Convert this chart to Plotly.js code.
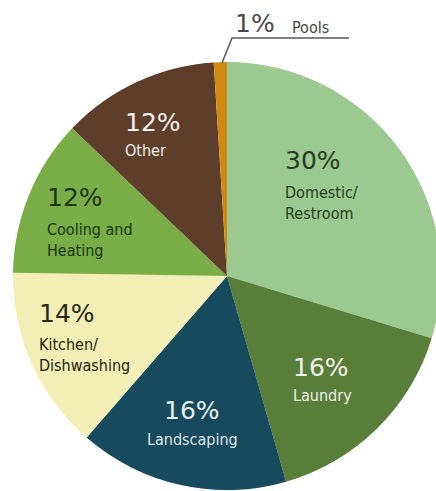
<!DOCTYPE html>
<html>
<head>
<meta charset="utf-8">
<script src="https://cdn.plot.ly/plotly-3.0.1.min.js"></script>
<style>
html,body{margin:0;padding:0;background:#fff;overflow:hidden;width:436px;height:491px;}
#chart{width:450px;height:500px;}
</style>
</head>
<body>
<div id="chart"></div>
<script>
// Data
const categories = ["Domestic/<br>Restroom", "Laundry", "Landscaping", "Kitchen/<br>Dishwashing", "Cooling and<br>Heating", "Other", "Pools"];
const values = [30, 16, 16, 14, 12, 12, 1];
const colors = ["#9cc990", "#587e3a", "#164a5c", "#f3eeb5", "#7aad47", "#5c3e2b", "#d08a14"];
const pctColors = ["#2b3a22", "#f2f2ea", "#e6eeee", "#2a2918", "#1c360f", "#f4f0ea", "#4a4a4a"];
const labColors = ["#263d1b", "#f2f2ea", "#dfe8ea", "#24230f", "#1a350c", "#f4f0ea", "#444444"];

// Label placement (pixel positions in the 450x500 canvas): pct cap-top, label cap-top
const W = 450, H = 500;
const labelPos = [
  {x: 285, pt: 150, lt: 185, a: "left"},
  {x: 293, pt: 357, lt: 388, a: "left"},
  {x: 192, pt: 400, lt: 432, a: "center"},
  {x: 39,  pt: 303, lt: 337, a: "left"},
  {x: 47,  pt: 187, lt: 222, a: "left"},
  {x: 125, pt: 112, lt: 143, a: "left"}
];
const PCT_FONT = "'DejaVu Sans', Verdana, sans-serif";
const LAB_FONT = "'DejaVu Sans Condensed', 'DejaVu Sans', sans-serif";
const PCT_SIZE = 25, LAB_SIZE = 16;

const annotations = [];
for (let i = 0; i < 6; i++) {
  const p = labelPos[i];
  const xo = p.a === "left" ? -2 : 0;
  annotations.push({
    xref: "paper", yref: "paper",
    x: (p.x + xo) / W, y: 1 - (p.pt - 1 - 0.2 * PCT_SIZE) / H,
    xanchor: p.a, yanchor: "top", align: p.a,
    showarrow: false,
    text: values[i] + "%",
    font: {family: PCT_FONT, size: PCT_SIZE, color: pctColors[i]}
  });
  annotations.push({
    xref: "paper", yref: "paper",
    x: (p.x + xo) / W, y: 1 - (p.lt - 1 - 0.2 * LAB_SIZE) / H,
    xanchor: p.a, yanchor: "top", align: p.a,
    showarrow: false,
    text: categories[i],
    font: {family: LAB_FONT, size: LAB_SIZE, color: labColors[i]}
  });
}
// Pools (outside label with leader line)
annotations.push({
  xref: "paper", yref: "paper",
  x: 233 / W, y: 1 - (13 - 1 - 0.2 * 25) / H,
  xanchor: "left", yanchor: "top", align: "left",
  showarrow: false,
  text: values[6] + "%",
  font: {family: PCT_FONT, size: 25, color: pctColors[6]}
});
annotations.push({
  xref: "paper", yref: "paper",
  x: 290 / W, y: 1 - (20 - 1 - 0.2 * 16) / H,
  xanchor: "left", yanchor: "top", align: "left",
  showarrow: false,
  text: categories[6],
  font: {family: LAB_FONT, size: 16, color: labColors[6]}
});

const shapes = [{
  type: "path", xref: "paper", yref: "paper",
  path: "M " + (222/W) + " " + (1-63/H) + " L " + (232/W) + " " + (1-38/H) + " L " + (349/W) + " " + (1-38/H),
  line: {color: "#5a5a5a", width: 1.5}
}];

const trace = {
  type: "pie",
  labels: categories,
  values: values,
  sort: false,
  direction: "clockwise",
  rotation: 0,
  marker: {colors: colors, line: {width: 0}},
  textinfo: "none",
  hoverinfo: "label+percent",
  showlegend: false,
  domain: {x: [12 / W, 442 / W], y: [10 / H, 438 / H]}
};

Plotly.newPlot("chart", [trace], {
  width: W, height: H,
  margin: {l: 0, r: 0, t: 0, b: 0},
  paper_bgcolor: "#ffffff",
  showlegend: false,
  annotations: annotations,
  shapes: shapes
}, {displayModeBar: false, staticPlot: true});
</script>
</body>
</html>
